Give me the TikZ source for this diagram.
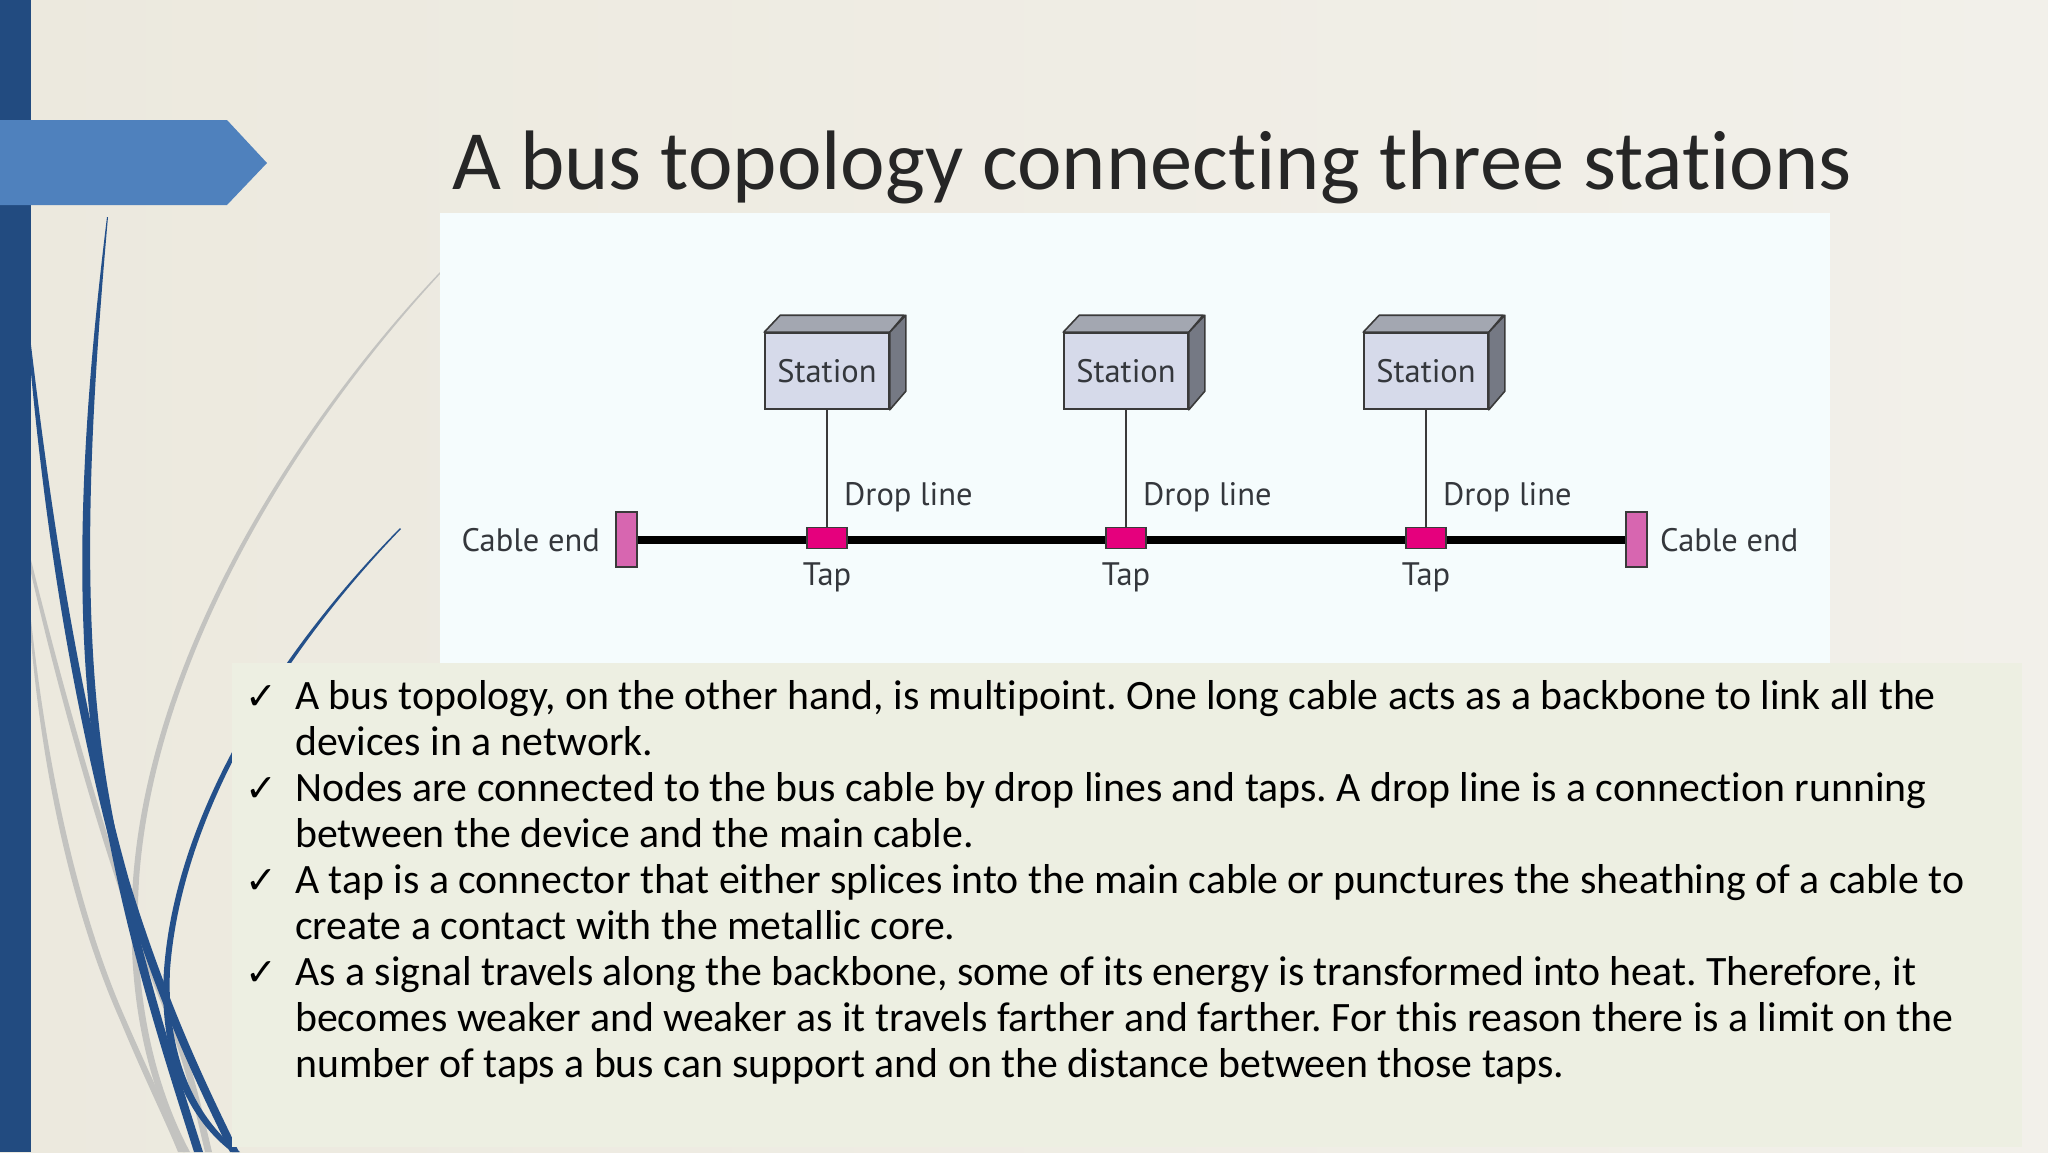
\documentclass[tikz,border=0pt]{standalone}
\usepackage{fontspec}
\setmainfont{Carlito}[Ligatures={NoCommon}]
\newfontfamily\diagfont{PT Sans}
\newfontfamily\symfont{DejaVu Sans}
\frenchspacing
\definecolor{bgL}{HTML}{ECE9DE}
\definecolor{bgR}{HTML}{F2F0EA}
\definecolor{barcol}{HTML}{224B80}
\definecolor{arrowcol}{HTML}{4F81BD}
\definecolor{curveblue}{HTML}{24508A}
\definecolor{curvegray}{HTML}{C3C3C0}
\definecolor{diagbg}{HTML}{F5FCFD}
\definecolor{textbg}{HTML}{EDEFE2}
\definecolor{titlecol}{HTML}{262626}
\definecolor{stfront}{HTML}{D6DAEA}
\definecolor{sttop}{HTML}{A3A7B1}
\definecolor{stside}{HTML}{757984}
\definecolor{edgecol}{HTML}{3A3A3A}
\definecolor{labcol}{HTML}{34373C}
\definecolor{tapcol}{HTML}{E5007D}
\definecolor{endcol}{HTML}{D766B0}
\begin{document}
\begin{tikzpicture}[x=1pt,y=-1pt,
  station/.style={draw=edgecol, line width=1.6pt, fill=stfront, minimum width=124pt, minimum height=76pt, inner sep=0pt, font=\diagfont\fontsize{32.5}{32.5}\selectfont, text=labcol},
  tapbox/.style={draw=edgecol, line width=1.2pt, fill=tapcol, minimum width=40pt, minimum height=21pt, inner sep=0pt},
  endbox/.style={draw=edgecol, line width=1.2pt, fill=endcol, minimum width=21pt, minimum height=55pt, inner sep=0pt},
  lab/.style={font=\diagfont\fontsize{32.5}{32.5}\selectfont, text=labcol, inner sep=0pt},
  drop/.style={draw=edgecol, line width=1.6pt},
  body/.style={font=\fontsize{41.8}{41.8}\selectfont, anchor=base west, inner sep=0pt, text=black},
  chk/.style={font=\symfont\fontsize{38}{38}\selectfont, anchor=base west, inner sep=0pt, text=black}]
\useasboundingbox (0,0) rectangle (2048,1152);
% background
\shade[left color=bgL, right color=bgR] (0,0) rectangle (2048,1152);
\fill[barcol] (0,0) rectangle (31,1152);
% decorative curves
% gray D
\fill[curvegray] (440,272) .. controls (300,420) and (150,650) .. (133,880)
  .. controls (125,1000) and (150,1090) .. (183,1152) -- (190,1152)
  .. controls (157,1090) and (132,1000) .. (139,880)
  .. controls (155,650) and (305,420) .. (441,273) -- cycle;
% gray C
\fill[curvegray] (31,573) .. controls (60,700) and (110,880) .. (160,1000)
  .. controls (185,1060) and (195,1110) .. (205,1152) -- (212,1152)
  .. controls (202,1110) and (192,1060) .. (166,1000)
  .. controls (116,880) and (66,700) .. (31,560) -- cycle;
% gray C2
\fill[curvegray] (31,640) .. controls (45,800) and (80,930) .. (120,1020)
  .. controls (145,1080) and (165,1120) .. (178,1152) -- (185,1152)
  .. controls (172,1120) and (152,1080) .. (126,1020)
  .. controls (86,930) and (51,800) .. (31,620) -- cycle;
% blue B
\fill[curveblue] (31,373) .. controls (45,520) and (70,700) .. (120,880)
  .. controls (160,1010) and (200,1090) .. (230,1152) -- (239,1152)
  .. controls (209,1090) and (169,1010) .. (129,880)
  .. controls (79,700) and (52,520) .. (31,345) -- cycle;
% blue A
\fill[curveblue] (107,217) .. controls (82,420) and (70,620) .. (100,790)
  .. controls (125,940) and (165,1060) .. (194,1152) -- (203,1152)
  .. controls (174,1060) and (134,940) .. (108,790)
  .. controls (79,620) and (90,420) .. (108,217) -- cycle;
% blue E
\fill[curveblue] (400,528) .. controls (270,660) and (175,820) .. (164,970)
  .. controls (158,1060) and (190,1120) .. (232,1152) -- (240,1152)
  .. controls (198,1120) and (166,1060) .. (170,970)
  .. controls (181,820) and (275,660) .. (401,529) -- cycle;
% arrow
\fill[arrowcol] (0,120) -- (227,120) -- (267,163) -- (227,205) -- (0,205) -- cycle;
% title
\node[anchor=base west, inner sep=0pt, text=titlecol, font=\fontsize{84.4}{84.4}\selectfont] (title) at (452,189) {A bus topology connecting three stations};
% panels
\fill[diagbg] (440,213) rectangle (1830,663);
\fill[textbg] (232,663) rectangle (2022,1147);
% diagram
\node[endbox] (ceL) at (626.5,539.5) {};
\node[endbox] (ceR) at (1636.5,539.5) {};
\draw[line width=8pt, black] (ceL.east) -- (ceR.west);
\foreach \i/\x in {1/827,2/1126,3/1426}{
  \node[station] (st\i) at (\x,371) {Station};
  \fill[sttop, draw=edgecol, line width=1.6pt, line join=round] (st\i.north west) -- ++(16,-17) -- ++(124,0) -- (st\i.north east) -- cycle;
  \fill[stside, draw=edgecol, line width=1.6pt, line join=round] (st\i.north east) -- ++(16,-17) -- ++(0,76) -- (st\i.south east) -- cycle;
  \node[tapbox] (tap\i) at (\x,538) {};
  \draw[drop] (st\i.south) -- (tap\i.north);
  \node[lab, anchor=west] (dl\i) at (\x+17,497) {Drop line};
  \node[lab] (tl\i) at (\x,577) {Tap};
}
\node[lab, anchor=east] (cel) at (600,540) {Cable end};
\node[lab, anchor=west] (cer) at (1660,540) {Cable end};
% bullets
\foreach \k in {0,2,4,6}{
  \node[chk] (c\k) at (245,709+46.1*\k) {✓};
}
\node[body] (l1) at (295,709) {A bus topology, on the other hand, is multipoint. One long cable acts as a backbone to link all the};
\node[body] (l2) at (295,755.1) {devices in a network.};
\node[body] (l3) at (295,801.2) {Nodes are connected to the bus cable by drop lines and taps. A drop line is a connection running};
\node[body] (l4) at (295,847.3) {between the device and the main cable.};
\node[body] (l5) at (295,893.4) {A tap is a connector that either splices into the main cable or punctures the sheathing of a cable to};
\node[body] (l6) at (295,939.5) {create a contact with the metallic core.};
\node[body] (l7) at (295,985.6) {As a signal travels along the backbone, some of its energy is transformed into heat. Therefore, it};
\node[body] (l8) at (295,1031.7) {becomes weaker and weaker as it travels farther and farther. For this reason there is a limit on the};
\node[body] (l9) at (295,1077.8) {number of taps a bus can support and on the distance between those taps.};
\end{tikzpicture}
\end{document}
